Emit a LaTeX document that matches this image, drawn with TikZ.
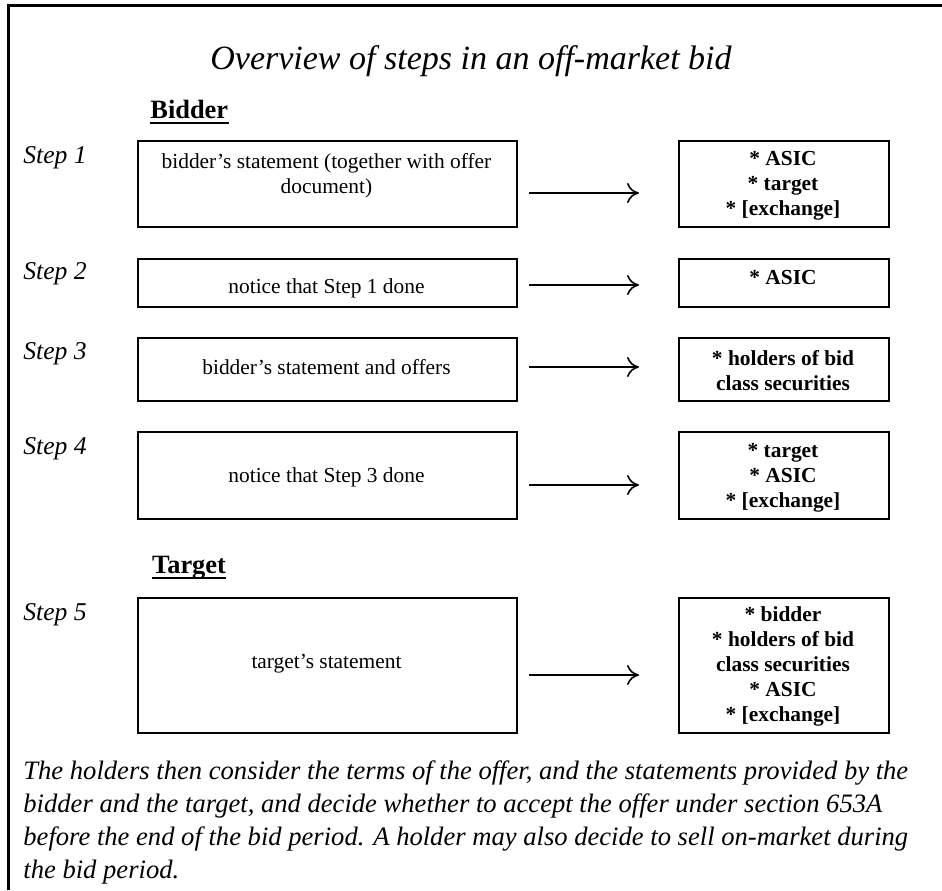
\documentclass[tikz,border=0pt]{standalone}
\usepackage{fontspec}
\setmainfont{Liberation Serif}
\usetikzlibrary{arrows.meta}
\begin{document}
\begin{tikzpicture}[x=0.5pt,y=-0.5pt,
  frameline/.style={line width=1.5pt},
  lbox/.style={draw,line width=1.1pt,anchor=north west,inner sep=0,minimum width=189.5pt},
  rbox/.style={draw,line width=1.1pt,anchor=north west,inner sep=0,minimum width=105pt},
  boxtxt/.style={align=center,inner sep=0,font=\fontsize{10.7}{12.5}\selectfont},
  boldtxt/.style={align=center,inner sep=0,font=\fontsize{10.7}{12.5}\selectfont\bfseries},
  steplbl/.style={anchor=west,inner sep=0,font=\fontsize{12.8}{15}\selectfont\itshape},
  heading/.style={anchor=base west,inner sep=0,font=\fontsize{13.2}{16}\selectfont\bfseries},
  titletxt/.style={inner sep=0,font=\fontsize{17}{20}\selectfont\itshape},
  para/.style={anchor=north west,align=left,inner sep=0,font=\fontsize{13.3}{16.5}\selectfont\itshape},
  uline/.style={line width=1.3pt},
  arr/.style={line width=0.8pt,-{To[length=6pt,width=10pt]}},
]
\useasboundingbox (0,0) rectangle (942,890);

% frame
\coordinate (fr1) at (942,5);
\coordinate (fr2) at (8,5);
\coordinate (fr3) at (8,890);
\draw[frameline] (fr1) -- (fr2) -- (fr3);

% title
\node[titletxt] (title) at (471,61) {Overview of steps in an off-market bid};

% headings
\node[heading] (bidder) at (150,118) {Bidder};
\draw[uline] ([yshift=-2.5pt]bidder.base west) -- ([yshift=-2.5pt]bidder.base east);
\node[heading] (target) at (151.7,573) {Target};
\draw[uline] ([yshift=-2.5pt]target.base west) -- ([yshift=-2.5pt]target.base east);

% step labels
\node[steplbl] (s1) at (23,158) {Step 1};
\node[steplbl] (s2) at (23,274) {Step 2};
\node[steplbl] (s3) at (23,354) {Step 3};
\node[steplbl] (s4) at (23,449) {Step 4};
\node[steplbl] (s5) at (23,615) {Step 5};

% left boxes
\node[lbox,minimum height=43pt] (l1) at (137,140) {};
\node[lbox,minimum height=24pt] (l2) at (137,258) {};
\node[lbox,minimum height=31.5pt] (l3) at (137,337) {};
\node[lbox,minimum height=43.5pt] (l4) at (137,431) {};
\node[lbox,minimum height=67.5pt] (l5) at (137,597) {};

\node[boxtxt] (t1) at (326.5,176) {bidder’s statement (together with offer\\document)};
\node[boxtxt] (t2) at (326.5,288) {notice that Step 1 done};
\node[boxtxt] (t3) at (326.5,367) {bidder’s statement and offers};
\node[boxtxt] (t4) at (326.5,477) {notice that Step 3 done};
\node[boxtxt] (t5) at (326.5,664) {target’s statement};

% right boxes
\node[rbox,minimum height=43pt] (r1) at (678,140) {};
\node[rbox,minimum height=24pt] (r2) at (678,258) {};
\node[rbox,minimum height=31.5pt] (r3) at (678,337) {};
\node[rbox,minimum height=43.5pt] (r4) at (678,431) {};
\node[rbox,minimum height=67.5pt] (r5) at (678,597) {};

\node[boldtxt] (u1) at (783,186) {* ASIC\\* target\\* [exchange]};
\node[boldtxt] (u2) at (783,278) {* ASIC};
\node[boldtxt] (u3) at (783,371) {* holders of bid\\class securities};
\node[boldtxt] (u4) at (783,478) {* target\\* ASIC\\* [exchange]};
\node[boldtxt] (u5) at (783,666) {* bidder\\* holders of bid\\class securities\\* ASIC\\* [exchange]};

% arrows
\coordinate (a1s) at (529,193); \coordinate (a1e) at (639,193);
\coordinate (a2s) at (529,285); \coordinate (a2e) at (639,285);
\coordinate (a3s) at (529,367); \coordinate (a3e) at (639,367);
\coordinate (a4s) at (529,485); \coordinate (a4e) at (639,485);
\coordinate (a5s) at (529,675); \coordinate (a5e) at (639,675);
\draw[arr] (a1s) -- (a1e);
\draw[arr] (a2s) -- (a2e);
\draw[arr] (a3s) -- (a3e);
\draw[arr] (a4s) -- (a4e);
\draw[arr] (a5s) -- (a5e);

% closing paragraph
\node[para] (note) at (23,760) {The holders then consider the terms of the offer, and the statements provided by the\\bidder and the target, and decide whether to accept the offer under section 653A\\before the end of the bid period. A holder may also decide to sell on-market during\\the bid period.};
\end{tikzpicture}
\end{document}
